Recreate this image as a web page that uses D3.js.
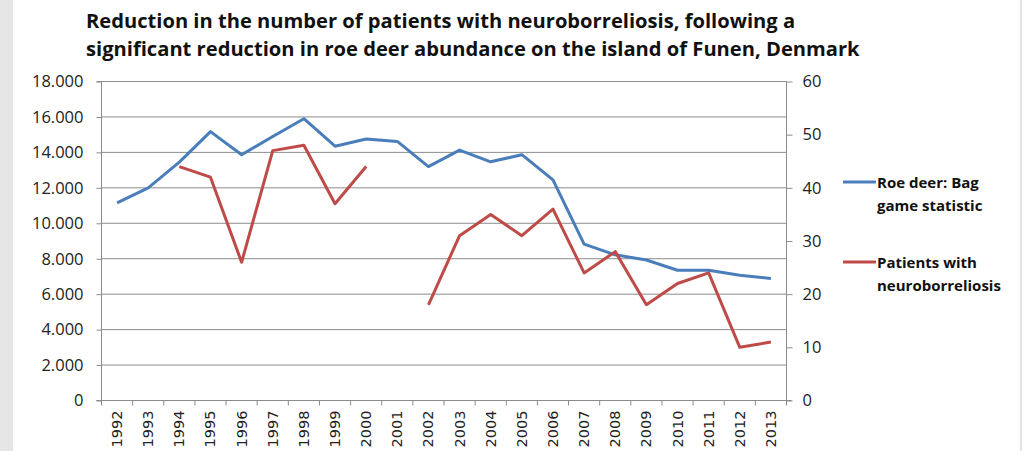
<!DOCTYPE html>
<html>
<head>
<meta charset="utf-8">
<script src="https://cdn.jsdelivr.net/npm/d3@7"></script>
<style>
  body { margin: 0; background: #fff; }
  svg { display: block; }
  .tick-label { font-family: "Open Sans", sans-serif; font-size: 16.5px; fill: #222; }
  .year-label { font-family: "DejaVu Sans", sans-serif; font-size: 14.5px; fill: #222; }
  .title { font-family: "Open Sans", sans-serif; font-weight: bold; fill: #111; }
  .legend { font-family: "Open Sans", sans-serif; font-weight: bold; font-size: 15px; fill: #111; }
</style>
</head>
<body>
<svg id="chart"></svg>
<script>
// data
const years = ["1992","1993","1994","1995","1996","1997","1998","1999","2000","2001","2002",
               "2003","2004","2005","2006","2007","2008","2009","2010","2011","2012","2013"];
const roeDeer = [11150, 12000, 13450, 15170, 13870, 14900, 15900, 14350, 14760, 14620, 13200,
                 14130, 13470, 13870, 12450, 8820, 8220, 7930, 7350, 7350, 7070, 6880];
const patients = [null, null, 44, 42, 26, 47, 48, 37, 44, null, 18,
                  31, 35, 31, 36, 24, 28, 18, 22, 24, 10, 11];
const leftTicks = [0, 2000, 4000, 6000, 8000, 10000, 12000, 14000, 16000, 18000];
const rightTicks = [0, 10, 20, 30, 40, 50, 60];
const titleLines = [
    "Reduction in the number of patients with neuroborreliosis, following a",
    "significant reduction in roe deer abundance on the island of Funen, Denmark"
];
const seriesNames = [["Roe deer: Bag", "game statistic"], ["Patients with", "neuroborreliosis"]];
const colors = ["#4a7ebb", "#be4b48"];

const W = 1022, H = 451;
const margin = { top: 81.5, right: 235.5, bottom: 50.5, left: 101.5 };
const width = W - margin.left - margin.right;
const height = H - margin.top - margin.bottom;

const svg = d3.select("#chart").attr("width", W).attr("height", H);

// grey frame strips
svg.append("rect").attr("x", 0).attr("y", 0).attr("width", 13).attr("height", H).attr("fill", "#e6e6e6");
svg.append("rect").attr("x", 1020).attr("y", 0).attr("width", 2).attr("height", H).attr("fill", "#e3e3e3");

// title, fitted so the second line spans the same width as in the picture
const title = svg.append("g");
titleLines.forEach((t, i) => {
    title.append("text").attr("class", "title")
        .attr("x", 86).attr("y", 28 + i * 28)
        .style("font-size", "20px")
        .text(t);
});
const w2 = title.selectAll("text").nodes()[1].getComputedTextLength();
title.selectAll("text").style("font-size", (20 * 774 / w2) + "px");

const chart = svg.append("g").attr("transform", `translate(${margin.left},${margin.top})`);

const x = d3.scaleBand().domain(years).range([0, width]).padding(0);
const y = d3.scaleLinear().domain([0, 18000]).range([height, 0]);
const y2 = d3.scaleLinear().domain([0, 60]).range([height, 0]);

// gridlines
chart.append("g").selectAll("line")
    .data(leftTicks.filter(d => d > 0))
    .join("line")
    .attr("x1", 0).attr("x2", width)
    .attr("y1", d => y(d)).attr("y2", d => y(d))
    .attr("stroke", "#8c8c8c").attr("stroke-width", 1);

// left axis
const yAxis = d3.axisLeft(y).tickValues(leftTicks).tickSize(5).tickPadding(13)
    .tickFormat(d => d === 0 ? "0" : d3.format(",")(d).replace(",", "."));
const yAxisG = chart.append("g").call(yAxis);
yAxisG.select(".domain").attr("stroke", "#8c8c8c").attr("d", `M-5,0H0V${height}H-5`);
yAxisG.selectAll(".tick line").attr("stroke", "#8c8c8c");
yAxisG.selectAll(".tick text").attr("class", "tick-label").attr("fill", null);

// right axis
const y2Axis = d3.axisRight(y2).tickValues(rightTicks).tickSize(6).tickPadding(10);
const y2AxisG = chart.append("g").attr("transform", `translate(${width},0)`).call(y2Axis);
y2AxisG.select(".domain").attr("stroke", "#8c8c8c").attr("d", `M0,0V${height}`);
y2AxisG.selectAll(".tick line").attr("stroke", "#8c8c8c");
y2AxisG.selectAll(".tick text").attr("class", "tick-label").attr("fill", null);

// bottom axis: tick marks between categories, labels rotated
const xAxisG = chart.append("g").attr("transform", `translate(0,${height})`);
xAxisG.append("line").attr("x1", -5).attr("x2", width + 5)
    .attr("stroke", "#8c8c8c");
xAxisG.selectAll(".xtick")
    .data(years.map(d => x(d)).concat([x.range()[1]]))
    .join("line").attr("class", "xtick")
    .attr("x1", d => d).attr("x2", d => d)
    .attr("y1", 0).attr("y2", 5)
    .attr("stroke", "#8c8c8c");
xAxisG.selectAll(".year-label")
    .data(years)
    .join("text").attr("class", "year-label")
    .attr("transform", d => `translate(${x(d) + x.bandwidth() / 2 + 5},10) rotate(-90)`)
    .attr("text-anchor", "end")
    .text(d => d);

// lines
const cx = (d, i) => x(years[i]) + x.bandwidth() / 2;
const lineDeer = d3.line().x(cx).y(d => y(d));
const linePat = d3.line().defined(d => d != null).x(cx).y(d => y2(d));

chart.append("path").datum(roeDeer)
    .attr("d", lineDeer)
    .attr("fill", "none").attr("stroke", colors[0]).attr("stroke-width", 3)
    .attr("stroke-linejoin", "round");
chart.append("path").datum(patients)
    .attr("d", linePat)
    .attr("fill", "none").attr("stroke", colors[1]).attr("stroke-width", 3)
    .attr("stroke-linejoin", "round");

// legend
const legend = svg.append("g");
const legendY = [182, 262];
seriesNames.forEach((lines, i) => {
    legend.append("line")
        .attr("x1", 843).attr("x2", 876)
        .attr("y1", legendY[i]).attr("y2", legendY[i])
        .attr("stroke", colors[i]).attr("stroke-width", 3);
    lines.forEach((t, j) => {
        legend.append("text").attr("class", "legend")
            .attr("x", 877).attr("y", legendY[i] + 6 + j * 23)
            .text(t);
    });
});
</script>
</body>
</html>
